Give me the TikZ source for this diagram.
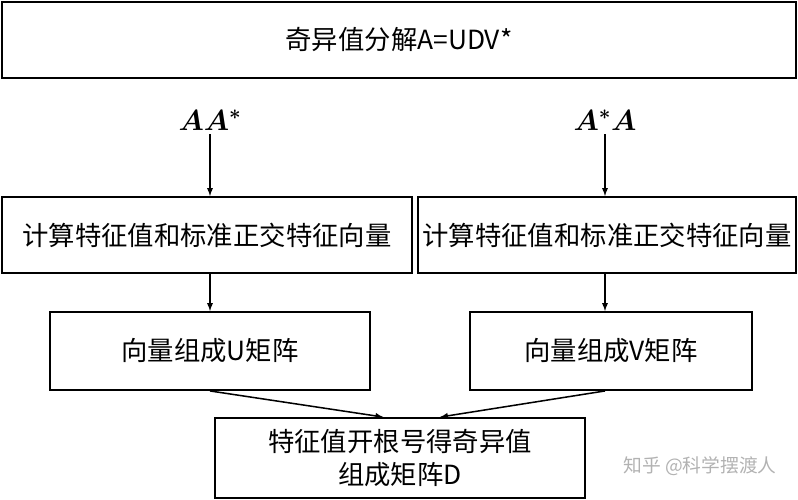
\documentclass[tikz,border=0pt]{standalone}
\usepackage{fontspec}
\setmainfont{Noto Sans CJK SC}
\usepackage{amsmath}
\usetikzlibrary{positioning}
\begin{document}
\begin{tikzpicture}[x=0.03cm,y=-0.03cm]
	\tikzstyle{box} = [draw=black,line width=1.6pt,font=\fontsize{22.5}{28}\selectfont,align=center,inner sep=0pt]
	\tikzstyle{arrow} = [-latex,line width=1.3pt]
	\useasboundingbox (0,0) rectangle (798,500);
	\node[box,minimum width=23.82cm,minimum height=2.28cm] (top) at (399,40) {奇异值分解A=UDV*};
	\node[font=\fontsize{26}{28}\selectfont] (aas) at (210,120) {$\boldsymbol{AA^*}$};
	\node[font=\fontsize{26}{28}\selectfont] (asa) at (605,120) {$\boldsymbol{A^*A}$};
	\node[box,minimum width=12.3cm,minimum height=2.28cm] (eigl) at (207,235) {计算特征值和标准正交特征向量};
	\node[box,minimum width=11.34cm,minimum height=2.28cm] (eigr) at (607,235) {计算特征值和标准正交特征向量};
	\node[box,minimum width=9.6cm,minimum height=2.34cm] (ul) at (210,351) {向量组成U矩阵};
	\node[box,minimum width=8.46cm,minimum height=2.34cm] (vr) at (611,351) {向量组成V矩阵};
	\node[box,minimum width=11.1cm,minimum height=2.4cm] (dm) at (400,458) {特征值开根号得奇异值\\组成矩阵D};
	\node[text=gray!60,font=\fontsize{16}{18}\selectfont] (wm) at (700,466) {知乎 @科学摆渡人};
	\draw[arrow] (aas.south) -- (eigl.north -| aas);
	\draw[arrow] (asa.south) -- (eigr.north -| asa);
	\draw[arrow] (eigl.south -| aas) -- (ul.north -| aas);
	\draw[arrow] (eigr.south -| asa) -- (vr.north -| asa);
	\draw[arrow] (ul.south -| aas) -- ([xshift=-0.5cm]dm.north);
	\draw[arrow] (vr.south -| asa) -- ([xshift=1.2cm]dm.north);
\end{tikzpicture}
\end{document}
